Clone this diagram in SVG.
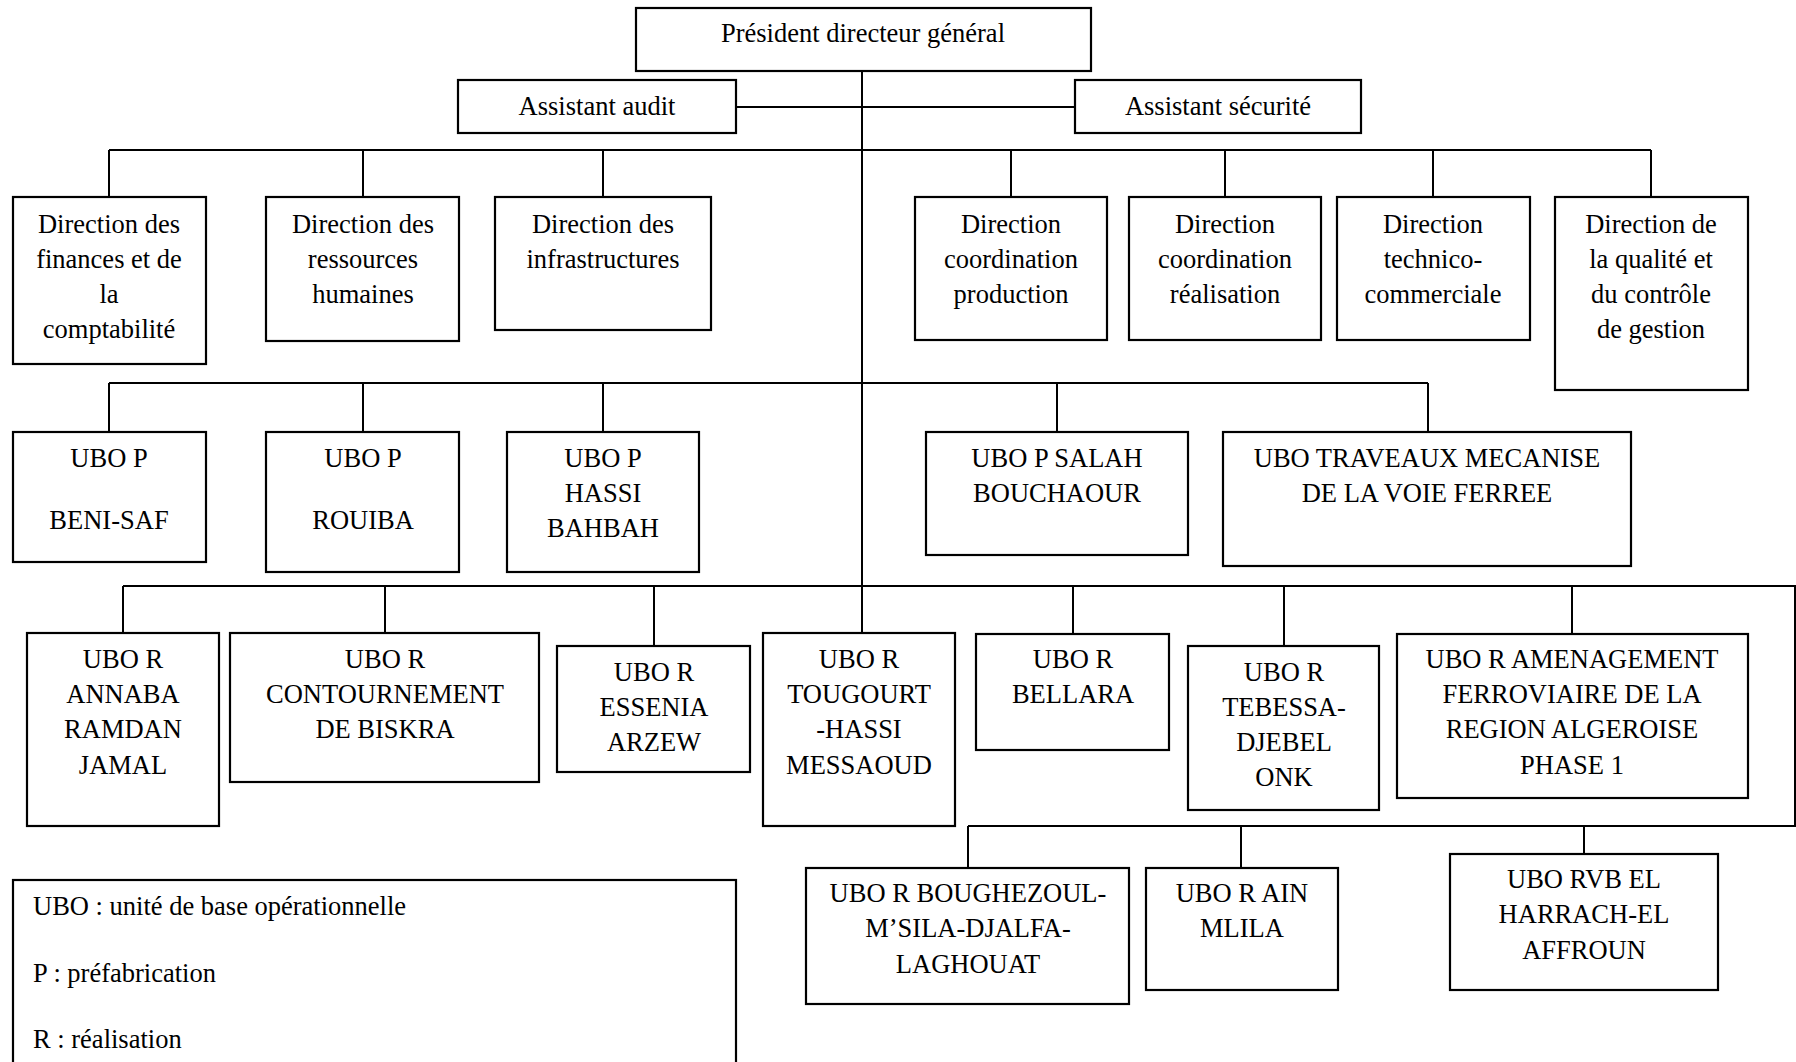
<svg xmlns="http://www.w3.org/2000/svg" width="1796" height="1062" viewBox="0 0 1796 1062">
  <style>
    .box { fill: #ffffff; stroke: #000000; stroke-width: 2.2; }
    .wire { fill: none; stroke: #000000; stroke-width: 2; }
    text { font-family: "Liberation Serif", "Times New Roman", serif; font-size: 26.5px; fill: #000000; text-anchor: middle; }
    text.legend { text-anchor: start; }
  </style>
  <rect width="1796" height="1062" fill="#ffffff"/>

  <!-- connectors -->
  <g id="connectors" class="wire">
    <path d="M862 71 V633"/>
    <path d="M736 107 H1075"/>
    <!-- directions -->
    <path d="M109 150 H1651"/>
    <path d="M109 150 V197 M363 150 V197 M603 150 V197 M1011 150 V197 M1225 150 V197 M1433 150 V197 M1651 150 V197"/>
    <!-- prefabrication units -->
    <path d="M109 383 H1428"/>
    <path d="M109 383 V432 M363 383 V432 M603 383 V432 M1057 383 V432 M1428 383 V432"/>
    <!-- realisation units -->
    <path d="M123 586 H1795 V826 H968"/>
    <path d="M123 586 V633 M385 586 V633 M654 586 V646 M1073 586 V634 M1284 586 V646 M1572 586 V634"/>
    <path d="M968 826 V868 M1241 826 V868 M1584 826 V854"/>
  </g>

  <g id="pdg">
    <rect class="box" x="636" y="8" width="455" height="63"/>
    <text x="863" y="42">Président directeur général</text>
  </g>
  <g id="assistant-audit">
    <rect class="box" x="458" y="80" width="278" height="53"/>
    <text x="597" y="115">Assistant audit</text>
  </g>
  <g id="assistant-securite">
    <rect class="box" x="1075" y="80" width="286" height="53"/>
    <text x="1218" y="115">Assistant sécurité</text>
  </g>

  <!-- directions -->
  <g id="dir-finances">
    <rect class="box" x="13" y="197" width="193" height="167"/>
    <text x="109" y="233">Direction des</text>
    <text x="109" y="268">finances et de</text>
    <text x="109" y="303">la</text>
    <text x="109" y="338">comptabilité</text>
  </g>
  <g id="dir-rh">
    <rect class="box" x="266" y="197" width="193" height="144"/>
    <text x="363" y="233">Direction des</text>
    <text x="363" y="268">ressources</text>
    <text x="363" y="303">humaines</text>
  </g>
  <g id="dir-infra">
    <rect class="box" x="495" y="197" width="216" height="133"/>
    <text x="603" y="233">Direction des</text>
    <text x="603" y="268">infrastructures</text>
  </g>
  <g id="dir-coord-production">
    <rect class="box" x="915" y="197" width="192" height="143"/>
    <text x="1011" y="233">Direction</text>
    <text x="1011" y="268">coordination</text>
    <text x="1011" y="303">production</text>
  </g>
  <g id="dir-coord-realisation">
    <rect class="box" x="1129" y="197" width="192" height="143"/>
    <text x="1225" y="233">Direction</text>
    <text x="1225" y="268">coordination</text>
    <text x="1225" y="303">réalisation</text>
  </g>
  <g id="dir-technico">
    <rect class="box" x="1337" y="197" width="193" height="143"/>
    <text x="1433" y="233">Direction</text>
    <text x="1433" y="268">technico-</text>
    <text x="1433" y="303">commerciale</text>
  </g>
  <g id="dir-qualite">
    <rect class="box" x="1555" y="197" width="193" height="193"/>
    <text x="1651" y="233">Direction de</text>
    <text x="1651" y="268">la qualité et</text>
    <text x="1651" y="303">du contrôle</text>
    <text x="1651" y="338">de gestion</text>
  </g>

  <!-- prefabrication units -->
  <g id="ubo-p-benisaf">
    <rect class="box" x="13" y="432" width="193" height="130"/>
    <text x="109" y="467">UBO P</text>
    <text x="109" y="529">BENI-SAF</text>
  </g>
  <g id="ubo-p-rouiba">
    <rect class="box" x="266" y="432" width="193" height="140"/>
    <text x="363" y="467">UBO P</text>
    <text x="363" y="529">ROUIBA</text>
  </g>
  <g id="ubo-p-hassi-bahbah">
    <rect class="box" x="507" y="432" width="192" height="140"/>
    <text x="603" y="467">UBO P</text>
    <text x="603" y="502">HASSI</text>
    <text x="603" y="537">BAHBAH</text>
  </g>
  <g id="ubo-p-salah-bouchaour">
    <rect class="box" x="926" y="432" width="262" height="123"/>
    <text x="1057" y="467">UBO P SALAH</text>
    <text x="1057" y="502">BOUCHAOUR</text>
  </g>
  <g id="ubo-travaux">
    <rect class="box" x="1223" y="432" width="408" height="134"/>
    <text x="1427" y="467">UBO TRAVEAUX MECANISE</text>
    <text x="1427" y="502">DE LA VOIE FERREE</text>
  </g>

  <!-- realisation units -->
  <g id="ubo-r-annaba">
    <rect class="box" x="27" y="633" width="192" height="193"/>
    <text x="123" y="668">UBO R</text>
    <text x="123" y="703">ANNABA</text>
    <text x="123" y="738">RAMDAN</text>
    <text x="123" y="774">JAMAL</text>
  </g>
  <g id="ubo-r-biskra">
    <rect class="box" x="230" y="633" width="309" height="149"/>
    <text x="385" y="668">UBO R</text>
    <text x="385" y="703">CONTOURNEMENT</text>
    <text x="385" y="738">DE BISKRA</text>
  </g>
  <g id="ubo-r-essenia">
    <rect class="box" x="557" y="646" width="193" height="126"/>
    <text x="654" y="681">UBO R</text>
    <text x="654" y="716">ESSENIA</text>
    <text x="654" y="751">ARZEW</text>
  </g>
  <g id="ubo-r-tougourt">
    <rect class="box" x="763" y="633" width="192" height="193"/>
    <text x="859" y="668">UBO R</text>
    <text x="859" y="703">TOUGOURT</text>
    <text x="859" y="738">-HASSI</text>
    <text x="859" y="774">MESSAOUD</text>
  </g>
  <g id="ubo-r-bellara">
    <rect class="box" x="976" y="634" width="193" height="116"/>
    <text x="1073" y="668">UBO R</text>
    <text x="1073" y="703">BELLARA</text>
  </g>
  <g id="ubo-r-tebessa">
    <rect class="box" x="1188" y="646" width="191" height="164"/>
    <text x="1284" y="681">UBO R</text>
    <text x="1284" y="716">TEBESSA-</text>
    <text x="1284" y="751">DJEBEL</text>
    <text x="1284" y="786">ONK</text>
  </g>
  <g id="ubo-r-amenagement">
    <rect class="box" x="1397" y="634" width="351" height="164"/>
    <text x="1572" y="668">UBO R AMENAGEMENT</text>
    <text x="1572" y="703">FERROVIAIRE DE LA</text>
    <text x="1572" y="738">REGION ALGEROISE</text>
    <text x="1572" y="774">PHASE 1</text>
  </g>

  <g id="ubo-r-boughezoul">
    <rect class="box" x="806" y="868" width="323" height="136"/>
    <text x="968" y="902">UBO R BOUGHEZOUL-</text>
    <text x="968" y="937">M’SILA-DJALFA-</text>
    <text x="968" y="973">LAGHOUAT</text>
  </g>
  <g id="ubo-r-ain-mlila">
    <rect class="box" x="1146" y="868" width="192" height="122"/>
    <text x="1242" y="902">UBO R AIN</text>
    <text x="1242" y="937">MLILA</text>
  </g>
  <g id="ubo-rvb">
    <rect class="box" x="1450" y="854" width="268" height="136"/>
    <text x="1584" y="888">UBO RVB EL</text>
    <text x="1584" y="923">HARRACH-EL</text>
    <text x="1584" y="959">AFFROUN</text>
  </g>

  <!-- abbreviations -->
  <g id="legend">
    <rect class="box" x="13" y="880" width="723" height="200"/>
    <text class="legend" x="33" y="915">UBO : unité de base opérationnelle</text>
    <text class="legend" x="33" y="982">P : préfabrication</text>
    <text class="legend" x="33" y="1048">R : réalisation</text>
  </g>
</svg>
